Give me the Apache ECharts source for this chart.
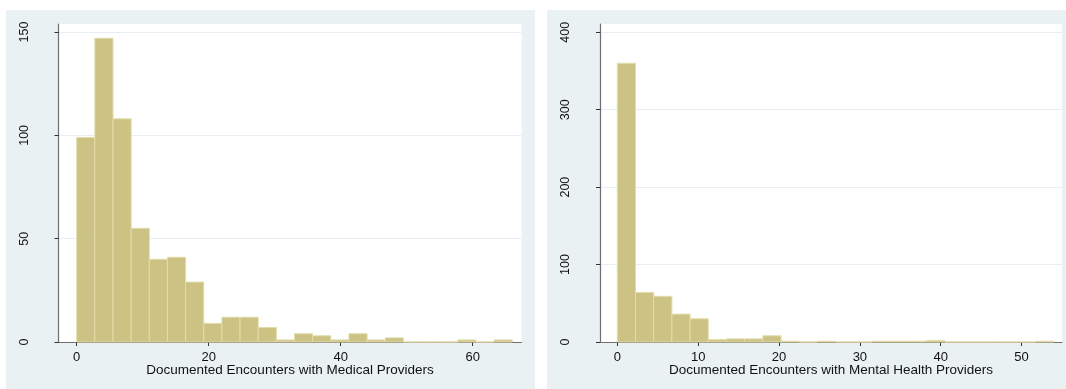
<!DOCTYPE html>
<html>
<head>
<meta charset="utf-8">
<script src="https://cdn.jsdelivr.net/npm/echarts@6/dist/echarts.min.js"></script>
<style>
  html, body { margin: 0; padding: 0; background: #ffffff; }
  #chart { width: 1066px; height: 389px; }
</style>
</head>
<body>
<div id="chart"></div>
<script>
// Frequency of documented encounters, 24 equal-width bins per histogram
const medicalBinWidth = 2.75;
const medicalCounts = [99, 147, 108, 55, 40, 41, 29, 9, 12, 12, 7, 1,
                       4, 3, 1, 4, 1, 2, 0, 0, 0, 1, 0, 1];
const mentalBinWidth = 2.25;
const mentalCounts = [360, 64, 59, 36, 30, 3, 4, 4, 8, 1, 0, 1,
                      0, 0, 1, 1, 1, 2, 0, 0, 0, 0, 0, 1];

const medicalTicks = [0, 20, 40, 60];
const mentalTicks = [0, 10, 20, 30, 40, 50];
const medicalYTicks = [0, 50, 100, 150];
const mentalYTicks = [0, 100, 200, 300, 400];

const medicalTitle = 'Documented Encounters with Medical Providers';
const mentalTitle = 'Documented Encounters with Mental Health Providers';

function binRows(counts, width) {
  return counts.map((c, i) => [i * width, (i + 1) * width, c]);
}

const FONT = 'Liberation Sans, Arial, sans-serif';
const PANEL_BG = '#eaf1f3';
const GRID_LINE = '#e6eef1';
const AXIS_LINE = '#6e6e6e';
const BAR_FILL = '#cbc283';
const BAR_EDGE = '#e2dcaa';

function renderBin(params, api) {
  const lo = api.coord([api.value(0), 0]);
  const hi = api.coord([api.value(1), api.value(2)]);
  return {
    type: 'rect',
    shape: { x: lo[0], y: hi[1], width: hi[0] - lo[0], height: lo[1] - hi[1] },
    style: { fill: BAR_FILL, stroke: BAR_EDGE, lineWidth: 1 }
  };
}

function xAxis(idx, min, max, ticks, title) {
  return {
    type: 'value', gridIndex: idx, min: min, max: max,
    name: title, nameLocation: 'middle', nameGap: 21, nameMoveOverlap: false,
    nameTextStyle: { fontFamily: FONT, fontSize: 13.5, color: '#111' },
    axisLine: { show: true, onZero: false, lineStyle: { color: AXIS_LINE, width: 1.2 } },
    axisTick: { show: true, customValues: ticks, length: 4, lineStyle: { color: '#333' } },
    axisLabel: { customValues: ticks, margin: 9, fontFamily: FONT, fontSize: 13, color: '#111' },
    splitLine: { show: false }
  };
}

function yAxis(idx, max, ticks, margin) {
  return {
    type: 'value', gridIndex: idx, min: 0, max: max,
    axisLine: { show: true, onZero: false, lineStyle: { color: AXIS_LINE, width: 1.2 } },
    axisTick: { show: true, customValues: ticks, length: 4, lineStyle: { color: '#333' } },
    axisLabel: { customValues: ticks, rotate: 90, margin: margin, fontFamily: FONT, fontSize: 12.5, color: '#111' },
    splitLine: { show: true, customValues: ticks, lineStyle: { color: GRID_LINE, width: 1 } }
  };
}

const chart = echarts.init(document.getElementById('chart'), null, { renderer: 'canvas' });

chart.setOption({
  animation: false,
  backgroundColor: '#ffffff',
  graphic: [
    { type: 'rect', z: -10, shape: { x: 6, y: 10, width: 529, height: 379 }, style: { fill: PANEL_BG } },
    { type: 'rect', z: -10, shape: { x: 547, y: 10, width: 519, height: 379 }, style: { fill: PANEL_BG } }
  ],
  grid: [
    { left: 58.5, top: 24, right: 1066 - 521.5, bottom: 389 - 342, show: true,
      backgroundColor: '#ffffff', borderWidth: 0 },
    { left: 600, top: 24, right: 1066 - 1062, bottom: 389 - 342, show: true,
      backgroundColor: '#ffffff', borderWidth: 0 }
  ],
  xAxis: [
    xAxis(0, -2.76, 67.4, medicalTicks, medicalTitle),
    xAxis(1, -2.14, 55.0, mentalTicks, mentalTitle)
  ],
  yAxis: [
    yAxis(0, 153.9, medicalYTicks, 27),
    yAxis(1, 410.7, mentalYTicks, 28)
  ],
  series: [
    { type: 'custom', xAxisIndex: 0, yAxisIndex: 0, renderItem: renderBin,
      encode: { x: [0, 1], y: 2 }, data: binRows(medicalCounts, medicalBinWidth) },
    { type: 'custom', xAxisIndex: 1, yAxisIndex: 1, renderItem: renderBin,
      encode: { x: [0, 1], y: 2 }, data: binRows(mentalCounts, mentalBinWidth) }
  ]
});
</script>
</body>
</html>
